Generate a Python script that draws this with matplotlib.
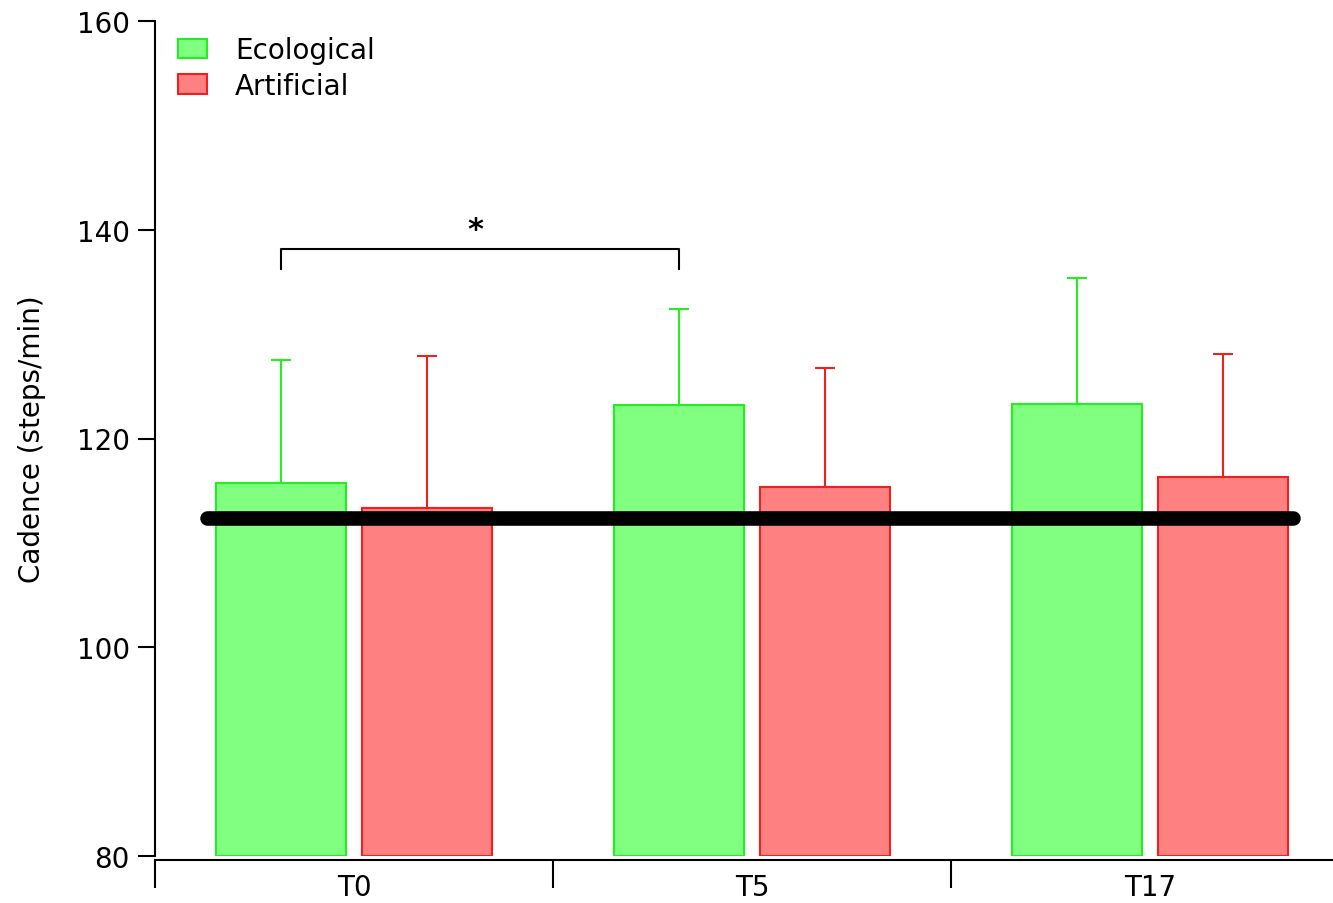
import matplotlib
matplotlib.use("Agg")
import matplotlib.pyplot as plt
import numpy as np

# cadence means and upper SD, per session
sessions = ["T0", "T5", "T17"]
eco_mean = [115.7, 123.2, 123.3]
eco_sd = [11.8, 9.2, 12.1]
art_mean = [113.3, 115.4, 116.3]
art_sd = [14.6, 11.4, 11.8]
baseline = 112.4
sig_pair = (0, 1)   # ecological T0 vs T5
sig_label = "*"

plt.rcParams["font.family"] = ["DejaVu Sans"]

fig = plt.figure(figsize=(13.33, 9.04), dpi=100)
ax = fig.add_axes([155 / 1333, 47 / 904, 1178 / 1333, 835 / 904])

x = np.arange(len(sessions))
off, w = 0.183, 0.327
eco_c, eco_e = "#80ff80", "#22ee22"
art_c, art_e = "#ff8080", "#ee2020"

ax.bar(x - off, np.array(eco_mean) - 80, w, bottom=80, color=eco_c, edgecolor=eco_e,
       lw=1.5, label="Ecological", zorder=2)
ax.bar(x + off, np.array(art_mean) - 80, w, bottom=80, color=art_c, edgecolor=art_e,
       lw=1.5, label="Artificial", zorder=2)
ax.errorbar(x - off, eco_mean, yerr=[np.zeros(3), eco_sd], fmt="none", ecolor=eco_e,
            elinewidth=1.5, capsize=7, capthick=1.5, zorder=1)
ax.errorbar(x + off, art_mean, yerr=[np.zeros(3), art_sd], fmt="none", ecolor=art_e,
            elinewidth=1.5, capsize=7, capthick=1.5, zorder=1)

ax.axhline(baseline, xmin=0.044, xmax=0.966, color="black", lw=10.5,
           solid_capstyle="round", zorder=3)

# significance bracket
x1, x2 = sig_pair[0] - off, sig_pair[1] - off
ax.plot([x1, x1, x2, x2], [136.2, 138.2, 138.2, 136.2], color="black", lw=1.5)
ax.text(0.304, 138.6, sig_label, ha="center", va="bottom", fontsize=22, fontweight="bold")

ax.set_xlim(-0.5, 2.46)
ax.set_ylim(80, 160)
ax.set_yticks([80, 100, 120, 140, 160])
ax.set_xticks(x)
ax.set_xticklabels(sessions)
ax.set_xticks([-0.5, 0.5, 1.5], minor=True)
ax.tick_params(axis="x", which="major", length=0, labelsize=20, pad=9)
ax.tick_params(axis="x", which="minor", length=20, width=1.5, direction="out")
ax.tick_params(axis="y", length=12, width=1.5, labelsize=20, pad=6)
ax.spines["top"].set_visible(False)
ax.spines["right"].set_visible(False)
ax.spines["left"].set_linewidth(1.5)
ax.spines["bottom"].set_linewidth(1.5)
ax.spines["bottom"].set_position(("outward", 3))
ax.set_ylabel("Cadence (steps/min)", fontsize=20, labelpad=22)

ax.legend(loc="upper left", bbox_to_anchor=(0.01, 0.995), frameon=False, fontsize=20,
          borderaxespad=0, handlelength=1.05, handleheight=0.72, handletextpad=1.0,
          labelspacing=0.28)

fig.savefig("out.png", dpi=100)
